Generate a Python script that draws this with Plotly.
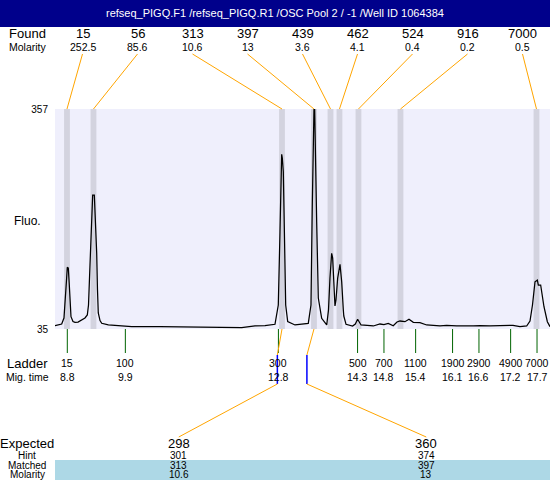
import plotly.graph_objects as go

# ------------------------------------------------------------------ data
title_text = "refseq_PIGQ.F1 /refseq_PIGQ.R1 /OSC Pool 2 / -1 /Well ID 1064384"

found_size = ["15", "56", "313", "397", "439", "462", "524", "916", "7000"]
found_molarity = ["252.5", "85.6", "10.6", "13", "3.6", "4.1", "0.4", "0.2", "0.5"]
found_time = [8.794, 9.296, 12.868, 13.474, 13.787, 13.957, 14.317, 15.113, 17.690]

ladder_size = ["15", "100", "300", "500", "700", "1100", "1900", "2900", "4900", "7000"]
ladder_time = [8.8, 9.9, 12.8, 14.3, 14.8, 15.4, 16.1, 16.6, 17.2, 17.7]

expected_size = ["298", "360"]
expected_time = [12.78, 13.34]
hint_size = ["301", "374"]
matched_size = ["313", "397"]
matched_molarity = ["10.6", "13"]
matched_time = [12.868, 13.474]

fluo_min, fluo_max = 35, 357

trace_time = [8.567, 8.694, 8.737, 8.766, 8.785, 8.800, 8.819, 8.838, 8.857, 8.870,
              8.908, 8.946, 9.003, 9.073, 9.135, 9.179, 9.202, 9.230, 9.258, 9.281,
              9.312, 9.334, 9.357, 9.372, 9.387, 9.420, 9.452, 9.577, 9.831, 10.020,
              10.556, 11.314, 12.104, 12.356, 12.546, 12.735, 12.798, 12.830, 12.849, 12.862,
              12.874, 12.893, 12.912, 12.938, 12.976, 13.114, 13.366, 13.417, 13.442, 13.461,
              13.474, 13.487, 13.493, 13.525, 13.556, 13.620, 13.715, 13.749, 13.777, 13.809,
              13.828, 13.853, 13.872, 13.891, 13.923, 13.967, 13.999, 14.030, 14.039, 14.081,
              14.206, 14.257, 14.301, 14.366, 14.598, 14.725, 14.800, 14.882, 14.976, 15.047,
              15.104, 15.198, 15.274, 15.356, 15.482, 15.609, 15.861, 15.988, 16.178, 16.492,
              16.619, 16.809, 17.125, 17.245, 17.377, 17.504, 17.567, 17.614, 17.662, 17.706,
              17.725, 17.769, 17.832, 17.896, 17.946]
trace_fluo = [39.8, 42.3, 51.1, 77.4, 106.7, 125.3, 124.3, 99.4, 70.1, 53.0,
              46.0, 44.8, 45.2, 48.2, 51.1, 55.5, 70.1, 128.7, 194.5, 231.1,
              231.1, 194.5, 146.2, 92.1, 58.4, 47.4, 43.3, 40.9, 39.8, 38.4,
              38.4, 37.9, 36.9, 39.4, 39.8, 41.9, 70.1, 177.4, 235.9, 290.7,
              285.3, 265.2, 168.2, 70.1, 45.7, 40.9, 43.3, 70.1, 216.5, 343.8,
              357.0, 357.0, 323.8, 192.0, 80.4, 50.7, 40.9, 62.8, 109.6, 145.8,
              138.9, 89.6, 68.7, 77.4, 109.6, 129.7, 104.2, 62.8, 54.0, 41.9,
              39.4, 42.3, 49.2, 40.9, 39.4, 42.3, 41.3, 43.3, 39.8, 45.2,
              46.7, 45.7, 49.2, 44.8, 44.2, 40.9, 39.4, 40.4, 39.4, 39.4,
              40.1, 39.4, 39.4, 40.4, 38.4, 39.4, 46.7, 70.1, 104.2, 106.7,
              99.4, 99.4, 67.6, 45.7, 38.4]

# ------------------------------------------------------------------ layout
W, H = 550, 480
L, R, T, B = 55, 550, 109, 329          # plot box in pixels
X_RANGE = [8.567, 17.946]               # migration-time range of the plot box
FONT = "Liberation Sans, Arial, sans-serif"
ORANGE = "#FFA500"
GREEN = "#006400"
BLUE = "#0000FF"
BAND = "#D3D3DF"
BG = "#EFEFFC"


def px(x):
    return x / W


def py(y):
    return 1 - y / H


def t_at(xpix):
    return X_RANGE[0] + (xpix - L) / (R - L) * (X_RANGE[1] - X_RANGE[0])


def ann(text, x, y, size, xref="paper", color="black", xanchor="center"):
    return dict(text=text, x=x, y=y, xref=xref, yref="paper", xanchor=xanchor,
                yanchor="middle", showarrow=False, borderpad=0,
                font=dict(size=size, color=color, family=FONT))


shapes = []
annotations = []

# title bar
shapes.append(dict(type="rect", xref="paper", yref="paper", x0=0, x1=1, y0=py(27), y1=1,
                   fillcolor="#00008B", line=dict(width=0), layer="below"))
annotations.append(ann(title_text, 0.5, py(13), 11, color="white"))

# found / molarity rows
annotations.append(ann("Found", px(L / 2), py(34), 13))
annotations.append(ann("Molarity", px(L / 2), py(47), 10.5))
colw = (R - L) / len(found_size)
for k, (s, m, t) in enumerate(zip(found_size, found_molarity, found_time)):
    cx = L + colw * (k + 0.5)
    annotations.append(ann(s, px(cx), py(34), 13))
    annotations.append(ann(m, px(cx), py(47), 10.5))
    shapes.append(dict(type="line", xref="x", yref="paper", x0=t_at(cx), y0=py(54),
                       x1=t, y1=py(T), line=dict(color=ORANGE, width=1)))

# peak bands
half = 0.055
for t in found_time:
    shapes.append(dict(type="rect", xref="x", yref="y", x0=t - half, x1=t + half,
                       y0=fluo_min, y1=fluo_max, fillcolor=BAND,
                       line=dict(width=0), layer="below"))

annotations.append(ann("Fluo.", px(27), py(221), 12))

# ladder
annotations.append(ann("Ladder", px(27), py(363), 13))
annotations.append(ann("Mig. time", px(27), py(377), 10.5))
for s, t in zip(ladder_size, ladder_time):
    shapes.append(dict(type="line", xref="x", yref="paper", x0=t, x1=t,
                       y0=py(B), y1=py(353), line=dict(color=GREEN, width=1)))
    annotations.append(ann(s, t, py(363), 10.5, xref="x"))
    annotations.append(ann(f"{t:.1f}", t, py(377), 10.5, xref="x"))

# expected / matched connectors
bcolw = (R - L) / len(expected_size)
for k, (te, tm) in enumerate(zip(expected_time, matched_time)):
    cx = L + bcolw * (k + 0.5)
    shapes.append(dict(type="line", xref="x", yref="paper", x0=tm, y0=py(B),
                       x1=te, y1=py(355), line=dict(color=ORANGE, width=1)))
    shapes.append(dict(type="line", xref="x", yref="paper", x0=te, y0=py(355),
                       x1=te, y1=py(384), line=dict(color=BLUE, width=1.5)))
    shapes.append(dict(type="line", xref="x", yref="paper", x0=te, y0=py(384),
                       x1=t_at(cx), y1=py(437), line=dict(color=ORANGE, width=1)))

# bottom table
shapes.append(dict(type="rect", xref="paper", yref="paper", x0=px(L), x1=1, y0=0, y1=py(460),
                   fillcolor="#ADD8E6", line=dict(width=0), layer="below"))
annotations.append(ann("Expected", px(27), py(443), 13))
annotations.append(ann("Hint", px(27), py(455), 10))
annotations.append(ann("Matched", px(27), py(465), 10))
annotations.append(ann("Molarity", px(27), py(474), 10))
for k in range(len(expected_size)):
    cx = px(L + bcolw * (k + 0.5))
    annotations.append(ann(expected_size[k], cx, py(443), 13))
    annotations.append(ann(hint_size[k], cx, py(455), 10))
    annotations.append(ann(matched_size[k], cx, py(465), 10))
    annotations.append(ann(matched_molarity[k], cx, py(474), 10))

fig = go.Figure()
fig.add_trace(go.Scatter(x=trace_time, y=trace_fluo, mode="lines",
                         line=dict(color="black", width=1.25), cliponaxis=False,
                         hoverinfo="skip", showlegend=False))

fig.update_layout(
    template="none",
    width=W, height=H, autosize=False,
    margin=dict(l=0, r=0, t=0, b=0, pad=0),
    paper_bgcolor="white", plot_bgcolor=BG,
    font=dict(family=FONT, color="black"),
    showlegend=False,
    xaxis=dict(domain=[px(L), px(R)], range=X_RANGE, visible=False, fixedrange=True),
    yaxis=dict(domain=[py(B), py(T)], range=[fluo_min, fluo_max],
               tickvals=[fluo_min, fluo_max], ticktext=[str(fluo_min), str(fluo_max)],
               ticks="", showgrid=False, zeroline=False, showline=False,
               tickfont=dict(size=10, family=FONT), ticklabelstandoff=6, fixedrange=True),
    shapes=shapes,
    annotations=annotations,
)

fig.write_html("out.html", config={"displayModeBar": False},
               post_script="document.body.style.margin='0';document.body.style.overflow='hidden';")
